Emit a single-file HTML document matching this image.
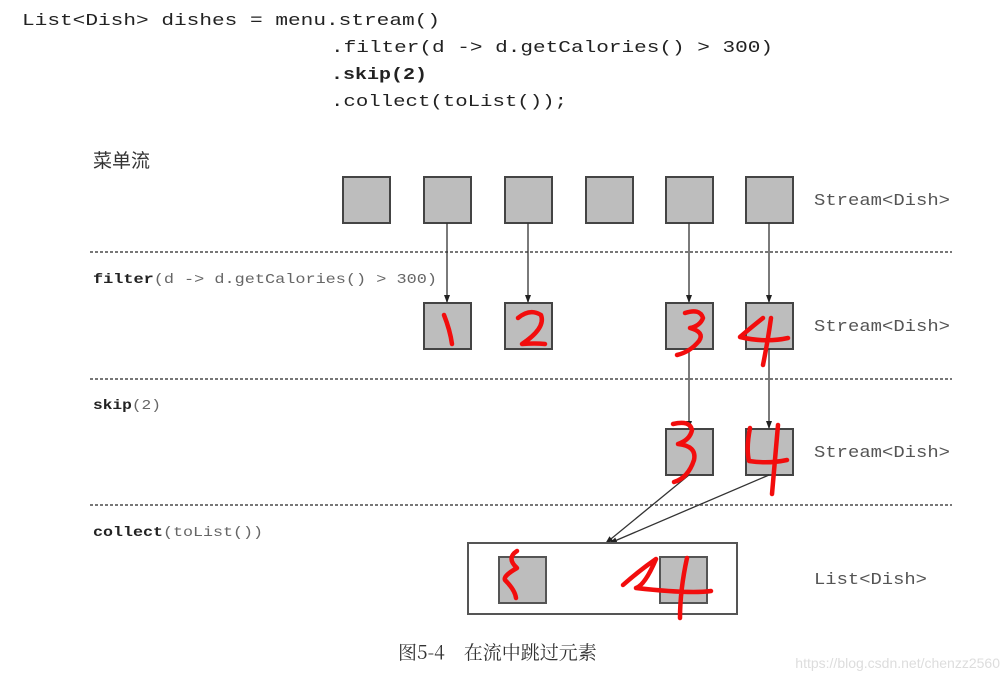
<!DOCTYPE html>
<html><head><meta charset="utf-8"><style>
html,body{margin:0;padding:0;background:#fff;width:1008px;height:682px;overflow:hidden}
svg text{font-family:"Liberation Mono",monospace}
</style></head><body>
<svg width="1008" height="682" viewBox="0 0 1008 682" xmlns="http://www.w3.org/2000/svg">
<defs><marker id="a" markerWidth="8" markerHeight="8" refX="7" refY="4" orient="auto" markerUnits="userSpaceOnUse"><path d="M0,1 L8,4 L0,7 Z" fill="#222"/></marker></defs>
<g fill="#222" font-size="17">
<text x="22" y="25" textLength="418" lengthAdjust="spacingAndGlyphs" font-family="Liberation Serif">List&lt;Dish&gt; dishes = menu.stream()</text>
<text x="331" y="52" textLength="442" lengthAdjust="spacingAndGlyphs" font-family="Liberation Serif">.filter(d -&gt; d.getCalories() &gt; 300)</text>
<text x="331" y="79" textLength="96" lengthAdjust="spacingAndGlyphs" font-weight="bold">.skip(2)</text>
<text x="331" y="106" textLength="236" lengthAdjust="spacingAndGlyphs" font-family="Liberation Serif">.collect(toList());</text>
</g>
<text x="93" y="167" font-size="19" fill="#333" style="font-family:'Noto Sans CJK SC',sans-serif">菜单流</text>
<g fill="#bdbdbd" stroke="#444" stroke-width="2">
<rect x="343" y="177" width="47" height="46"/><rect x="424" y="177" width="47" height="46"/><rect x="505" y="177" width="47" height="46"/><rect x="586" y="177" width="47" height="46"/><rect x="666" y="177" width="47" height="46"/><rect x="746" y="177" width="47" height="46"/>
<rect x="424" y="303" width="47" height="46"/><rect x="505" y="303" width="47" height="46"/><rect x="666" y="303" width="47" height="46"/><rect x="746" y="303" width="47" height="46"/>
<rect x="666" y="429" width="47" height="46"/><rect x="746" y="429" width="47" height="46"/>
</g>
<g stroke="#777" stroke-width="2" stroke-dasharray="3,2"><line x1="90" y1="252" x2="952" y2="252"/><line x1="90" y1="379" x2="952" y2="379"/><line x1="90" y1="505" x2="952" y2="505"/></g>
<g stroke="#333" stroke-width="1.3" marker-end="url(#a)">
<line x1="447" y1="223" x2="447" y2="302"/><line x1="528" y1="223" x2="528" y2="302"/><line x1="689" y1="223" x2="689" y2="302"/><line x1="769" y1="223" x2="769" y2="302"/>
<line x1="689" y1="349" x2="689" y2="428"/><line x1="769" y1="349" x2="769" y2="428"/>
<line x1="689" y1="475" x2="606" y2="543"/><line x1="769" y1="475" x2="610" y2="543"/>
</g>
<rect x="468" y="543" width="269" height="71" fill="#fff" stroke="#555" stroke-width="2"/>
<rect x="499" y="557" width="47" height="46" fill="#bdbdbd" stroke="#555" stroke-width="2"/>
<rect x="660" y="557" width="47" height="46" fill="#bdbdbd" stroke="#555" stroke-width="2"/>
<g fill="#555" font-size="17">
<text x="814" y="205" textLength="136" lengthAdjust="spacingAndGlyphs">Stream&lt;Dish&gt;</text>
<text x="814" y="331" textLength="136" lengthAdjust="spacingAndGlyphs">Stream&lt;Dish&gt;</text>
<text x="814" y="457" textLength="136" lengthAdjust="spacingAndGlyphs">Stream&lt;Dish&gt;</text>
<text x="814" y="584" textLength="113" lengthAdjust="spacingAndGlyphs">List&lt;Dish&gt;</text>
</g>
<g fill="#666" font-size="14">
<text x="93" y="283" textLength="344" lengthAdjust="spacingAndGlyphs"><tspan font-weight="bold" fill="#222">filter</tspan>(d -&gt; d.getCalories() &gt; 300)</text>
<text x="93" y="409" textLength="68" lengthAdjust="spacingAndGlyphs"><tspan font-weight="bold" fill="#222">skip</tspan>(2)</text>
<text x="93" y="536" textLength="170" lengthAdjust="spacingAndGlyphs"><tspan font-weight="bold" fill="#222">collect</tspan>(toList())</text>
</g>
<text x="398" y="659" font-size="19" fill="#333" style="font-family:'Noto Serif CJK SC',serif">图5-4　在流中跳过元素</text>
<text x="1000" y="668" text-anchor="end" font-size="14" fill="#ddd" style="font-family:'Liberation Sans',sans-serif">https://blog.csdn.net/chenzz2560</text>
<g fill="none" stroke="#f20d0d" stroke-width="4.5" stroke-linecap="round" stroke-linejoin="round">
<path d="M444,315 Q450,330 452,344"/>
<path d="M518,318 Q530,308 541,315 Q546,328 522,344 Q535,343 545,344"/>
<path d="M685,313 Q700,308 703,318 Q700,326 690,328 Q705,332 699,341 Q690,352 677,355"/>
<path d="M763,318 Q748,330 740,337 Q765,343 788,338 M771,318 Q768,340 763,365"/>
<path d="M673,424 Q690,420 692,430 Q690,440 678,444 Q697,446 694,460 Q688,478 674,482"/>
<path d="M750,428 Q746,448 749,461 Q768,464 787,460 M778,425 Q775,460 772,494"/>
<path d="M517,551 Q506,558 517,568 Q503,576 505,580 Q515,590 516,598"/>
<path d="M623,585 Q640,570 656,559 Q645,585 636,588 Q690,594 711,591 M687,558 Q680,590 680,618"/>
</g>
</svg>
</body></html>
